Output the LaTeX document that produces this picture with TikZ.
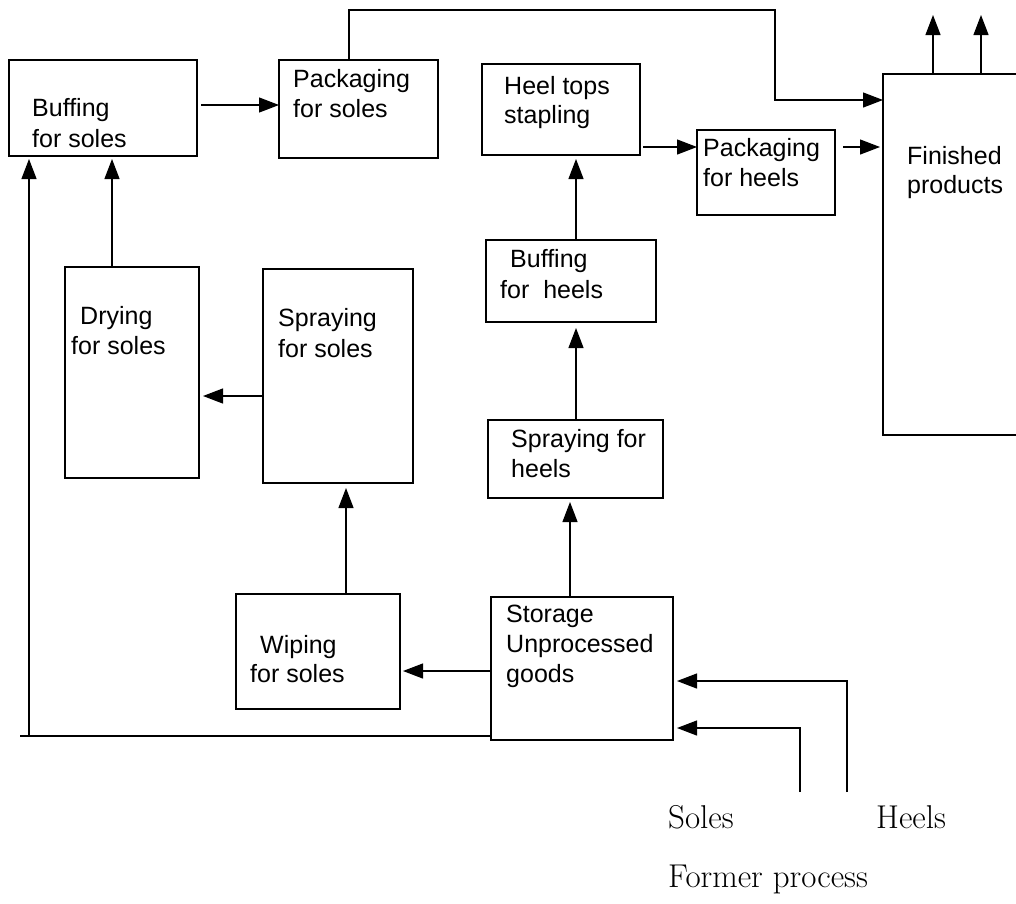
\documentclass[tikz,border=0pt]{standalone}
\usepackage{fontspec}
\newfontfamily\gothic{Liberation Sans}
\usetikzlibrary{arrows.meta}

\begin{document}
\begin{tikzpicture}[x=1pt,y=-1pt,
  box/.style={draw, line width=1.3pt, anchor=north west, inner sep=0pt, outer sep=0pt},
  flow/.style={line width=1.2pt, -{Triangle[length=20pt,width=15pt]}},
  wire/.style={line width=1.2pt},
  lbl/.style={font=\gothic\fontsize{25}{30}\selectfont, anchor=base west, inner sep=0pt},
  src/.style={font=\fontsize{33}{40}\selectfont, anchor=base west, inner sep=0pt}]

\useasboundingbox (0,0) rectangle (1016,903);
\clip (0,0) rectangle (1016,903);

% process boxes
\node[box, minimum width=188pt, minimum height=96pt]  (bufS)    at (9,60)   {};
\node[box, minimum width=159pt, minimum height=98pt]  (pkgS)    at (279,60) {};
\node[box, minimum width=158pt, minimum height=91pt]  (heelTop) at (482,64) {};
\node[box, minimum width=138pt, minimum height=85pt]  (pkgH)    at (697,130) {};
\node[box, minimum width=150pt, minimum height=361pt] (fin)     at (883,74) {};
\node[box, minimum width=134pt, minimum height=211pt] (dryS)    at (65,267) {};
\node[box, minimum width=150pt, minimum height=214pt] (sprS)    at (263,269) {};
\node[box, minimum width=170pt, minimum height=82pt]  (bufH)    at (486,240) {};
\node[box, minimum width=175pt, minimum height=78pt]  (sprH)    at (488,420) {};
\node[box, minimum width=164pt, minimum height=115pt] (wipS)    at (236,594) {};
\node[box, minimum width=182pt, minimum height=143pt] (stor)    at (491,597) {};

% box texts
\node[lbl] (tBufS1) at (32,116)  {Buffing};
\node[lbl] (tBufS2) at (32,147)  {for soles};
\node[lbl] (tPkgS1) at (293,87)  {Packaging};
\node[lbl] (tPkgS2) at (293,117) {for soles};
\node[lbl] (tHT1)   at (504,94)  {Heel tops};
\node[lbl] (tHT2)   at (504,123) {stapling};
\node[lbl] (tPkgH1) at (703,156) {Packaging};
\node[lbl] (tPkgH2) at (703,186) {for heels};
\node[lbl] (tFin1)  at (907,164) {Finished};
\node[lbl] (tFin2)  at (907,193) {products};
\node[lbl] (tDry1)  at (80,324)  {Drying};
\node[lbl] (tDry2)  at (71,354)  {for soles};
\node[lbl] (tSprS1) at (278,326) {Spraying};
\node[lbl] (tSprS2) at (278,357) {for soles};
\node[lbl] (tBufH1) at (510,267) {Buffing};
\node[lbl] (tBufH2) at (500,298) {for\ \ heels};
\node[lbl] (tSprH1) at (511,447) {Spraying for};
\node[lbl] (tSprH2) at (511,477) {heels};
\node[lbl] (tWip1)  at (260,653) {Wiping};
\node[lbl] (tWip2)  at (250,682) {for soles};
\node[lbl] (tSto1)  at (506,622) {Storage};
\node[lbl] (tSto2)  at (506,652) {Unprocessed};
\node[lbl] (tSto3)  at (506,682) {goods};

% incoming material labels
\node[src] (tSoles)  at (668,828) {Soles};
\node[src] (tHeels)  at (876,828) {Heels};
\node[src] (tFormer) at (668,887) {Former process};

% route points
\coordinate (t1) at (349,10);
\coordinate (t2) at (775,10);
\coordinate (out1) at (933,15);
\coordinate (out2) at (981,15);
\coordinate (c1) at (20,736);
\coordinate (c2) at (29,736);
\coordinate (hl) at (847,792);
\coordinate (sl) at (800,792);

% soles line
\draw[flow, shorten <=4pt] (bufS.east |- 0,105) -- (pkgS.west |- 0,105);
\draw[flow] (pkgS.north -| t1) -- (t1) -- (t2) |- (fin.west |- 0,100);
\draw[flow, shorten >=4pt] (sprS.west |- 0,396) -- (dryS.east |- 0,396);
\draw[flow, shorten >=3pt] (dryS.north -| 112,0) -- (bufS.south -| 112,0);
\draw[flow, shorten >=5pt] (wipS.north -| 346,0) -- (sprS.south -| 346,0);
\draw[flow, shorten >=3pt] (stor.west |- 0,671) -- (wipS.east |- 0,671);
\draw[wire] (stor.west |- 0,736) -- (c1);
\draw[flow, shorten >=3pt] (c2) -- (bufS.south -| c2);

% heels line
\draw[flow, shorten >=4pt] (stor.north -| 570,0) -- (sprH.south -| 570,0);
\draw[flow, shorten >=6pt] (sprH.north -| 576,0) -- (bufH.south -| 576,0);
\draw[flow, shorten >=4pt] (bufH.north -| 576,0) -- (heelTop.south -| 576,0);
\draw[flow, shorten <=3pt] (heelTop.east |- 0,147) -- (pkgH.west |- 0,147);
\draw[flow, shorten <=8pt, shorten >=3pt] (pkgH.east |- 0,147) -- (fin.west |- 0,147);

% finished products out
\draw[flow] (fin.north -| out1) -- (out1);
\draw[flow] (fin.north -| out2) -- (out2);

% incoming from former process
\draw[flow, shorten >=4pt] (hl) |- (stor.east |- 0,681);
\draw[flow, shorten >=4pt] (sl) |- (stor.east |- 0,728);
\end{tikzpicture}
\end{document}
